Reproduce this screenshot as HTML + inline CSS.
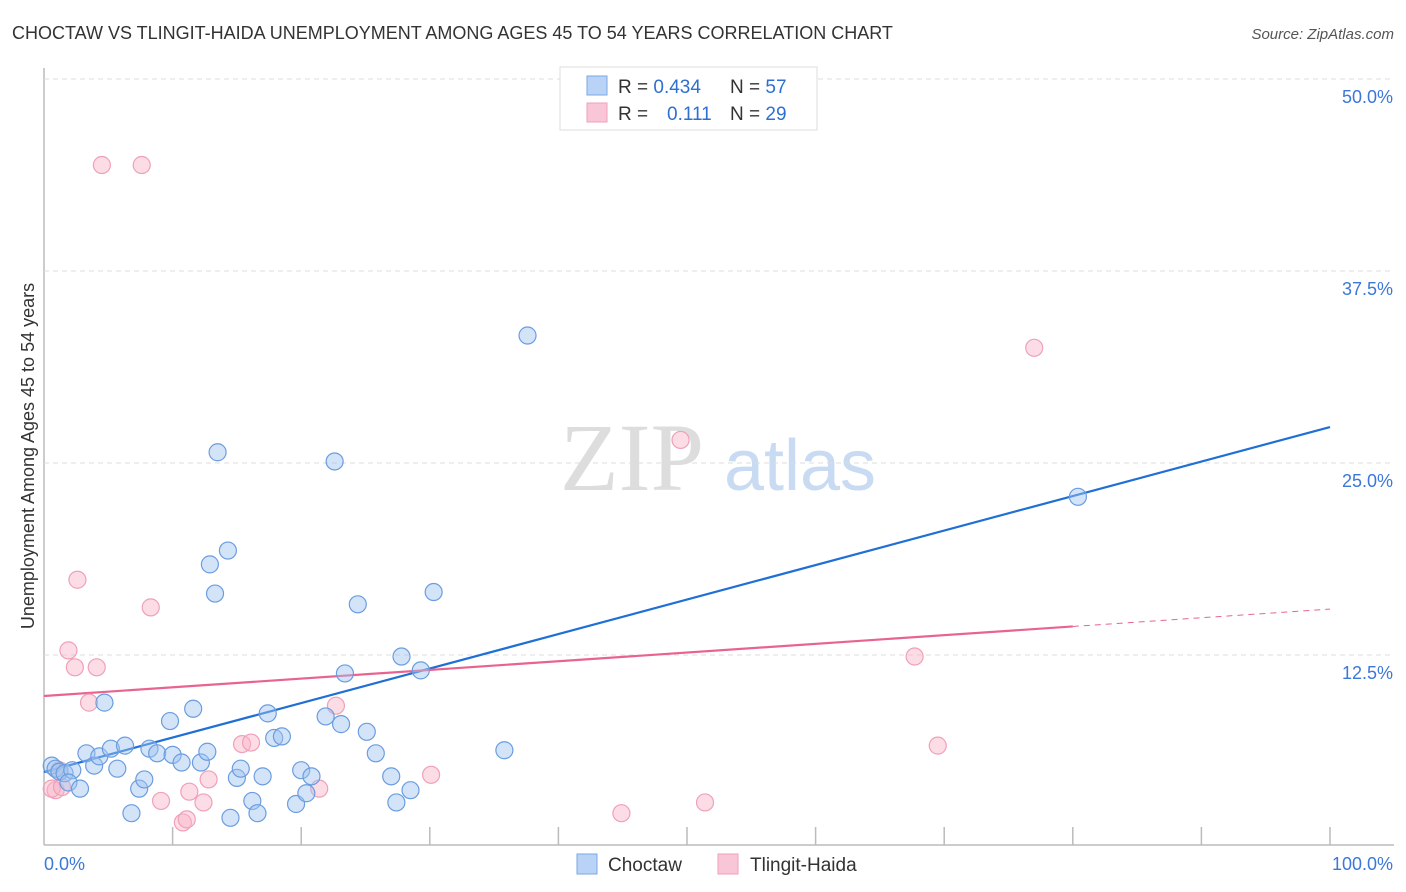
<!DOCTYPE html>
<html><head><meta charset="utf-8"><style>
body{margin:0;background:#fff;width:1406px;height:892px;overflow:hidden;font-family:"Liberation Sans",sans-serif}
svg{position:absolute;left:0;top:0}
</style></head><body>
<svg id="c" width="1406" height="892">
<text x="12" y="39" font-size="18" fill="#333">CHOCTAW VS TLINGIT-HAIDA UNEMPLOYMENT AMONG AGES 45 TO 54 YEARS CORRELATION CHART</text>
<text x="1394" y="39" font-size="15" fill="#555" font-style="italic" text-anchor="end">Source: ZipAtlas.com</text>
<text x="34" y="456" font-size="18" fill="#333" text-anchor="middle" transform="rotate(-90 34 456)">Unemployment Among Ages 45 to 54 years</text>
<g><text x="632" y="490" font-size="96" font-family="Liberation Serif,serif" fill="#ddd" text-anchor="middle">ZIP</text><text x="800" y="490" font-size="72" fill="#c8dbf2" text-anchor="middle">atlas</text></g>
<g id="grid"></g><g id="lines"></g><g id="pts"></g>
<g>
<rect x="560" y="67" width="257" height="63" fill="#fff" stroke="#ddd"/>
<rect x="587" y="76" width="20" height="19" fill="#b8d3f5" stroke="#7aa8e6"/>
<rect x="587" y="103" width="20" height="19" fill="#f8c6d6" stroke="#f0a0b8"/>
<text x="618" y="93" font-size="19" fill="#333">R = <tspan fill="#2d6fd2">0.434</tspan></text>
<text x="730" y="93" font-size="19" fill="#333">N = <tspan fill="#2d6fd2">57</tspan></text>
<text x="618" y="120" font-size="19" fill="#333">R = </text><text x="667" y="120" font-size="19" fill="#2d6fd2">0.111</text>
<text x="730" y="120" font-size="19" fill="#333">N = <tspan fill="#2d6fd2">29</tspan></text>
</g>
<g>
<rect x="577" y="854" width="20" height="20" fill="#b8d3f5" stroke="#7aa8e6"/>
<text x="608" y="871" font-size="19" fill="#333">Choctaw</text>
<rect x="718" y="854" width="20" height="20" fill="#f8c6d6" stroke="#f0a0b8"/>
<text x="750" y="871" font-size="19" fill="#333">Tlingit-Haida</text>
</g>
</svg>
<script>
const yTicks=[12.5,25,37.5,50];
const yTickLabels=["12.5%","25.0%","37.5%","50.0%"];
const xTicks=[10,20,30,40,50,60,70,80,90,100];
const blueX=[0.6,0.9,1.2,1.6,2.2,1.9,2.8,3.3,3.9,4.3,4.7,5.2,5.7,6.3,7.4,7.8,6.8,8.2,8.8,9.8,10.0,10.7,11.6,12.2,12.7,12.9,13.3,13.5,14.3,14.5,15.0,15.3,16.2,16.6,17.0,17.4,17.9,18.5,19.6,20.0,20.4,20.8,21.9,22.6,23.1,23.4,24.4,25.1,25.8,27.0,27.4,27.8,28.5,29.3,30.3,35.8,37.6,80.4];
const blueY=[5.3,5.1,4.9,4.8,5.0,4.2,3.8,6.1,5.3,5.9,9.4,6.4,5.1,6.6,3.8,4.4,2.2,6.4,6.1,8.2,6.0,5.5,9.0,5.5,6.2,18.4,16.5,25.7,19.3,1.9,4.5,5.1,3.0,2.2,4.6,8.7,7.1,7.2,2.8,5.0,3.5,4.6,8.5,25.1,8.0,11.3,15.8,7.5,6.1,4.6,2.9,12.4,3.7,11.5,16.6,6.3,33.3,22.8];
const pinkX=[4.5,7.6,2.6,1.9,2.4,4.1,8.3,3.5,0.9,0.6,1.4,9.1,11.3,10.8,11.1,12.4,12.8,15.4,16.1,21.4,22.7,30.1,44.9,49.5,51.4,67.7,69.5,77.0,1.2];
const pinkY=[44.4,44.4,17.4,12.8,11.7,11.7,15.6,9.4,3.7,3.8,3.9,3.0,3.6,1.6,1.8,2.9,4.4,6.7,6.8,3.8,9.2,4.7,2.2,26.5,2.9,12.4,6.6,32.5,5.0];
const blueTrend=[4.88,27.34];
const pinkTrend=[9.83,15.49];
const pinkSolidEnd=80;
const X=v=>44+v*12.86, Y=v=>847-v*15.36;
const NS="http://www.w3.org/2000/svg";
function mk(t,a,p){const e=document.createElementNS(NS,t);for(const k in a)e.setAttribute(k,a[k]);document.getElementById(p).appendChild(e);return e;}
let ax=mk('line',{x1:44,y1:68,x2:44,y2:845,stroke:'#bbb','stroke-width':1.5},'grid');


let bx=mk('line',{x1:44,y1:845,x2:1394,y2:845,stroke:'#bbb','stroke-width':1.5},'grid');


yTicks.forEach((t,i)=>{
 let g=mk('line',{x1:44,y1:Y(t),x2:1394,y2:Y(t),stroke:'#ddd','stroke-dasharray':'5,4'},'grid');
 
 
 let l=mk('text',{x:1393,y:Y(t)+24,'font-size':18,fill:'#3b78d8','text-anchor':'end'},'grid');l.textContent=yTickLabels[i];
 
 
});
xTicks.forEach(t=>{
 let g=mk('line',{x1:X(t),y1:827,x2:X(t),y2:845,stroke:'#bbb','stroke-width':1.5},'grid');
 
 
});
let x0=mk('text',{x:44,y:870,'font-size':18,fill:'#3b78d8'},'grid');x0.textContent='0.0%';


let x1=mk('text',{x:1393,y:870,'font-size':18,fill:'#3b78d8','text-anchor':'end'},'grid');x1.textContent='100.0%';


function dots(xs,ys,fill,stroke,name){xs.forEach((x,i)=>{
 let c=mk('circle',{cx:X(x),cy:Y(ys[i]),r:8.5,fill:fill,stroke:stroke,'stroke-width':1.2},'pts');
 
 
});}
dots(pinkX,pinkY,'rgba(248,180,200,0.45)','#f0a0b8','tlingit-haida-point');
dots(blueX,blueY,'rgba(160,196,240,0.45)','#6a9de0','choctaw-point');
let bl=mk('line',{x1:X(0),y1:Y(blueTrend[0]),x2:X(100),y2:Y(blueTrend[1]),stroke:'#1f6fd6','stroke-width':2.2},'lines');


const pAt=v=>pinkTrend[0]+(pinkTrend[1]-pinkTrend[0])*v/100;
let pl=mk('line',{x1:X(0),y1:Y(pinkTrend[0]),x2:X(pinkSolidEnd),y2:Y(pAt(pinkSolidEnd)),stroke:'#e8648f','stroke-width':2.2},'lines');


let pd=mk('line',{x1:X(pinkSolidEnd),y1:Y(pAt(pinkSolidEnd)),x2:X(100),y2:Y(pinkTrend[1]),stroke:'#e8648f','stroke-width':1,'stroke-dasharray':'6,5'},'lines');


</script>
</body></html>
